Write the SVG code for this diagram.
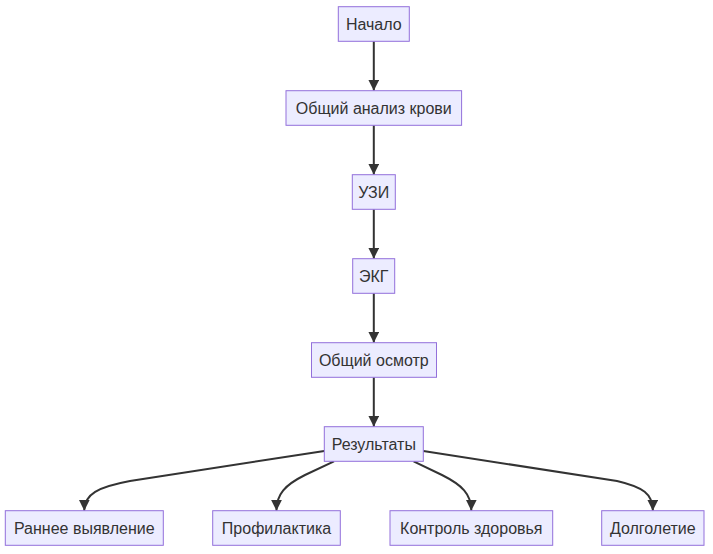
<svg xmlns="http://www.w3.org/2000/svg" width="713" height="554" viewBox="0 0 713 554">
<style>
.node rect{fill:#ECECFF;stroke:#9370DB;stroke-width:1}
.node text{font-family:"Liberation Sans",Arial,sans-serif;font-size:16px;fill:#333333;text-anchor:middle;dominant-baseline:central}
.edge{fill:none;stroke:#333333;stroke-width:2}
</style>
<defs>
<marker id="arrow" viewBox="0 0 10 10" refX="10" refY="5" markerUnits="userSpaceOnUse" markerWidth="11" markerHeight="11" orient="auto">
<path d="M0,0 L10,5 L0,10 z" fill="#333333"/>
</marker>
</defs>
<rect width="713" height="554" fill="#ffffff"/>
<g id="connectors">
<path class="edge" d="M373.8,41.3 L373.8,90.7" marker-end="url(#arrow)"/>
<path class="edge" d="M373.8,125.3 L373.8,174.7" marker-end="url(#arrow)"/>
<path class="edge" d="M373.8,209.3 L373.8,258.7" marker-end="url(#arrow)"/>
<path class="edge" d="M373.8,293.3 L373.8,342.7" marker-end="url(#arrow)"/>
<path class="edge" d="M373.8,377.3 L373.8,426.7" marker-end="url(#arrow)"/>
<path class="edge" d="M324.3,451 L130,481 C98,487 84.3,494 84.3,510.7" marker-end="url(#arrow)"/>
<path class="edge" d="M334,461.3 L305,475 C285,485 276.5,494 276.5,510.7" marker-end="url(#arrow)"/>
<path class="edge" d="M413.6,461.3 L442,475 C462,485 471.3,494 471.3,510.7" marker-end="url(#arrow)"/>
<path class="edge" d="M423.3,451 L617,481 C643,487 652.8,494 652.8,510.7" marker-end="url(#arrow)"/>
</g>
<g id="n1" class="node"><rect x="338.3" y="6.7" width="71" height="34.6"/><text x="373.8" y="24">Начало</text></g>
<g id="n2" class="node"><rect x="286" y="90.7" width="175.6" height="34.6"/><text x="373.8" y="108">Общий анализ крови</text></g>
<g id="n3" class="node"><rect x="352.3" y="174.7" width="43" height="34.6"/><text x="373.8" y="192">УЗИ</text></g>
<g id="n4" class="node"><rect x="352.7" y="258.7" width="42" height="34.6"/><text x="373.8" y="276">ЭКГ</text></g>
<g id="n5" class="node"><rect x="311.5" y="342.7" width="125" height="34.6"/><text x="373.8" y="360">Общий осмотр</text></g>
<g id="n6" class="node"><rect x="324.3" y="426.7" width="99" height="34.6"/><text x="373.8" y="444">Результаты</text></g>
<g id="n7" class="node"><rect x="5.3" y="510.7" width="158" height="34.6"/><text x="84.3" y="528">Раннее выявление</text></g>
<g id="n8" class="node"><rect x="212.7" y="510.7" width="127.6" height="34.6"/><text x="276.5" y="528">Профилактика</text></g>
<g id="n9" class="node"><rect x="390" y="510.7" width="162.7" height="34.6"/><text x="471.3" y="528">Контроль здоровья</text></g>
<g id="n10" class="node"><rect x="601.7" y="510.7" width="102.3" height="34.6"/><text x="652.8" y="528">Долголетие</text></g>
</svg>
